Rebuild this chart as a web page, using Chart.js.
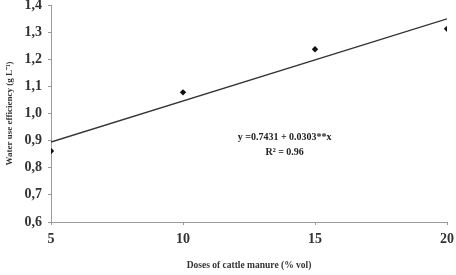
<!DOCTYPE html>
<html>
<head>
<meta charset="utf-8">
<script src="https://cdn.jsdelivr.net/npm/chart.js@4.4.1/dist/chart.umd.min.js"></script>
<style>
  html, body { margin: 0; padding: 0; background: #fff; }
  #wrap { width: 456px; height: 275px; }
</style>
</head>
<body>
<div id="wrap"><canvas id="chart" width="456" height="275"></canvas></div>
<script>
const doses = [5, 10, 15, 20]
const efficiency = [0.862, 1.078, 1.237, 1.312]

// fitted line end points (y = 0.7431 + 0.0303x)
const fitX = [5, 20]
const fitY = [0.895, 1.349]

const yTicks = [0.6, 0.7, 0.8, 0.9, 1.0, 1.1, 1.2, 1.3, 1.4]
const xTicks = [5, 10, 15, 20]

const equationLines = ["y =0.7431 + 0.0303**x", "R² = 0.96"]

const serif = "'Liberation Serif', 'Times New Roman', serif"
const axisGray = "#9a9a9a"

/**
 * Draws the regression equation inside the plot area
 */
const equationPlugin = {
    id: "equation",
    afterDatasetsDraw(chart) {
        const {ctx, scales} = chart
        const cx = scales.x.getPixelForValue(13.85)
        ctx.save()
        ctx.fillStyle = "#222"
        ctx.textAlign = "center"
        ctx.textBaseline = "middle"
        ctx.font = "bold 10px " + serif
        ctx.fillText(equationLines[0], cx, scales.y.getPixelForValue(0.91))
        ctx.fillText(equationLines[1], cx, scales.y.getPixelForValue(0.858))
        ctx.restore()
    }
}

// keep tick labels from pushing the plot area inwards
const noPad = s => { s.paddingTop = 0; s.paddingBottom = 0; s.paddingLeft = 0; s.paddingRight = 0 }

new Chart(document.getElementById("chart"), {
    type: "scatter",
    data: {
        datasets: [{
            data: doses.map((d, i) => ({x: d, y: efficiency[i]})),
            pointStyle: "rectRot",
            pointRadius: 3.2,
            backgroundColor: "#111",
            borderColor: "#111",
            borderWidth: 0
        }, {
            type: "line",
            data: fitX.map((d, i) => ({x: d, y: fitY[i]})),
            borderColor: "#333",
            borderWidth: 1.4,
            pointRadius: 0,
            fill: false
        }]
    },
    options: {
        responsive: false,
        animation: false,
        layout: {padding: {top: 5, right: 9, left: 0, bottom: 0}},
        plugins: {
            legend: {display: false},
            tooltip: {enabled: false}
        },
        scales: {
            x: {
                type: "linear",
                min: 5,
                max: 20,
                afterBuildTicks: s => { s.ticks = xTicks.map(v => ({value: v})) },
                afterFit: s => { s.height = 53; noPad(s) },
                grid: {drawOnChartArea: false, drawTicks: true, tickLength: 3, color: axisGray},
                border: {color: axisGray, width: 1},
                ticks: {
                    color: "#333",
                    padding: 6,
                    maxRotation: 0,
                    font: {family: serif, size: 14, weight: "bold"}
                },
                title: {
                    display: true,
                    text: "Doses of cattle manure (% vol)",
                    color: "#333",
                    padding: {top: 12},
                    font: {family: serif, size: 9.5, weight: "bold"}
                }
            },
            y: {
                min: 0.6,
                max: 1.4,
                afterBuildTicks: s => { s.ticks = yTicks.map(v => ({value: v})) },
                afterFit: s => { s.width = 51; noPad(s) },
                grid: {drawOnChartArea: false, drawTicks: true, tickLength: 3, color: axisGray},
                border: {color: axisGray, width: 1},
                ticks: {
                    color: "#333",
                    padding: 6,
                    font: {family: serif, size: 14, weight: "bold"},
                    callback: v => v.toFixed(1).replace(".", ",")
                },
                title: {
                    display: true,
                    text: "Water use efficiency (g L⁻¹)",
                    color: "#333",
                    padding: {bottom: 0},
                    font: {family: serif, size: 9, weight: "bold"}
                }
            }
        }
    },
    plugins: [equationPlugin]
})
</script>
</body>
</html>
